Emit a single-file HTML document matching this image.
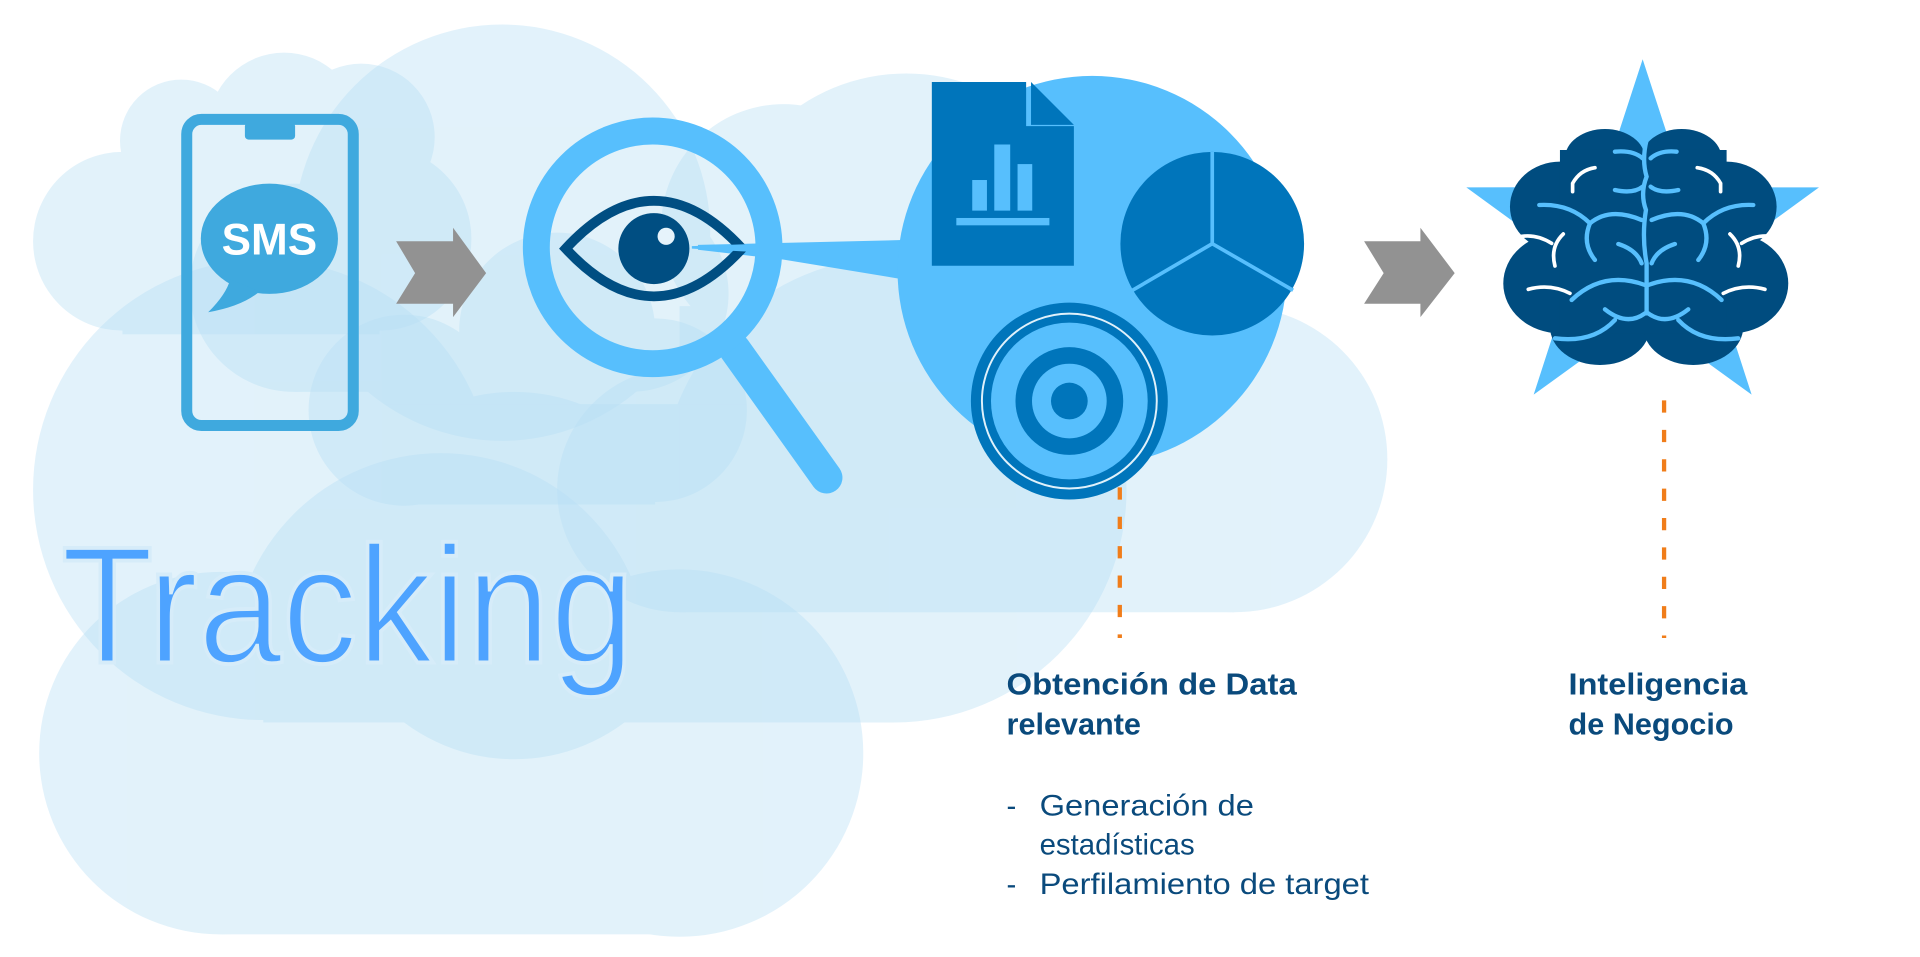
<!DOCTYPE html>
<html><head><meta charset="utf-8"><style>
html,body{margin:0;padding:0;background:#fff;}
svg{display:block;}
</style></head><body>
<svg width="1920" height="957" viewBox="0 0 1568 781.5" preserveAspectRatio="none" xmlns="http://www.w3.org/2000/svg">
<rect width="1568" height="781.5" fill="#fff"/>
<!-- clouds -->
<g fill="#b7dff5" opacity="0.4">
  <circle cx="180" cy="615" r="148"/><circle cx="555" cy="615" r="150"/><circle cx="360" cy="540" r="170"/>
  <rect x="180" y="500" width="375" height="263"/>
</g>
<g fill="#b7dff5" opacity="0.4">
  <circle cx="215" cy="400" r="188"/><circle cx="420" cy="470" r="150"/><circle cx="730" cy="400" r="190"/>
  <rect x="215" y="330" width="515" height="260"/>
</g>
<g fill="#b7dff5" opacity="0.4">
  <circle cx="740" cy="215" r="155"/><circle cx="1008" cy="375" r="125"/><circle cx="555" cy="400" r="100"/><circle cx="640" cy="185" r="100"/>
  <rect x="555" y="250" width="453" height="250"/>
</g>
<g fill="#b7dff5" opacity="0.4">
  <circle cx="100" cy="197" r="73"/><circle cx="148" cy="115" r="50"/><circle cx="232" cy="105" r="62"/><circle cx="295" cy="112" r="60"/><circle cx="310" cy="195" r="75"/>
  <rect x="100" y="140" width="210" height="133"/>
</g>
<g fill="#b7dff5" opacity="0.4">
  <circle cx="240" cy="235" r="85"/><circle cx="410" cy="190" r="170"/><circle cx="515" cy="240" r="80"/>
  <rect x="240" y="200" width="275" height="120"/>
</g>
<g fill="#b7dff5" opacity="0.4">
  <circle cx="330" cy="335" r="78"/><circle cx="535" cy="335" r="75"/><circle cx="455" cy="270" r="80"/>
  <rect x="330" y="280" width="205" height="132"/>
</g>

<!-- phone -->
<rect x="152.5" y="97.5" width="136" height="250" rx="12" fill="none" stroke="#3fa9de" stroke-width="9"/>
<rect x="200" y="100" width="41" height="14" rx="3" fill="#3fa9de"/>
<ellipse cx="220" cy="195" rx="56" ry="45" fill="#3fa9de"/>
<path d="M188 228 Q185 240 170 255 Q198 250 212 238 Z" fill="#3fa9de"/>
<text x="220" y="208" text-anchor="middle" font-family="Liberation Sans, sans-serif" font-weight="bold" font-size="36" fill="#fff">SMS</text>

<!-- arrows -->
<polygon points="323.5,197 370,197 370,186 397,223 370,259 370,248 323.5,248 339,223" fill="#929292"/>
<polygon points="1114,197 1160,197 1160,186 1188,223 1160,259 1160,248 1114,248 1130,223" fill="#929292"/>

<!-- beam -->
<polygon points="570,200 737,196 737,228 640,212 570,204" fill="#57bffd"/>
<!-- magnifier -->
<line x1="600" y1="285" x2="675" y2="390" stroke="#57bffd" stroke-width="26" stroke-linecap="round"/>
<circle cx="533" cy="202" r="95" fill="none" stroke="#57bffd" stroke-width="22"/>
<!-- eye -->
<path d="M462 203 Q534 125 606 203 Q534 281 462 203 Z" fill="none" stroke="#004e82" stroke-width="8"/>
<circle cx="534" cy="203" r="29" fill="#004e82"/>
<circle cx="544" cy="193" r="7" fill="#e6f3fb"/>
<polygon points="565,201 620,199 620,206 565,203" fill="#57bffd"/>

<!-- big circle -->
<circle cx="892" cy="221" r="159" fill="#57bffd"/>
<!-- document -->
<polygon points="761,67 838,67 838,103 877,103 877,217 761,217" fill="#0075bb"/>
<polygon points="842,67 877,102 842,102" fill="#0075bb"/>
<rect x="794" y="147" width="12" height="25" fill="#57bffd"/>
<rect x="812" y="118" width="13" height="54" fill="#57bffd"/>
<rect x="831" y="134" width="12" height="38" fill="#57bffd"/>
<rect x="781" y="178" width="76" height="6" fill="#57bffd"/>
<!-- pie -->
<circle cx="990" cy="199" r="75" fill="#0075bb"/>
<path d="M990 124 L990 199 L925 237 M990 199 L1056 237" stroke="#57bffd" stroke-width="3" fill="none"/>
<!-- target -->
<circle cx="873.3" cy="327.5" r="80.4" fill="#0075bb"/>
<circle cx="873.3" cy="327.5" r="71.4" fill="none" stroke="#dff1fb" stroke-width="1.6"/>
<circle cx="873.3" cy="327.5" r="64" fill="#57bffd"/>
<circle cx="873.3" cy="327.5" r="44" fill="#0075bb"/>
<circle cx="873.3" cy="327.5" r="30.5" fill="#57bffd"/>
<circle cx="873.3" cy="327.5" r="15" fill="#0075bb"/>

<!-- star -->
<polygon points="1341.5,48.4 1375.6,152.9 1485.5,153 1396.7,217.7 1430.5,322.3 1341.5,257.8 1252.5,322.3 1286.3,217.7 1197.5,153 1307.4,152.9" fill="#57bffd"/>
<!-- brain -->
<g transform="translate(1192.3,40.83) scale(0.2722)">
  <g fill="#004c7f">
    <ellipse cx="435" cy="325" rx="120" ry="88"/><ellipse cx="665" cy="325" rx="120" ry="88"/>
    <ellipse cx="300" cy="470" rx="150" ry="135"/><ellipse cx="800" cy="470" rx="150" ry="135"/>
    <ellipse cx="300" cy="700" rx="170" ry="150"/><ellipse cx="815" cy="700" rx="170" ry="150"/>
    <ellipse cx="420" cy="830" rx="150" ry="115"/><ellipse cx="700" cy="830" rx="150" ry="115"/>
    <rect x="300" y="300" width="500" height="550"/>
  </g>
  <g fill="none" stroke="#57bffd" stroke-width="13" stroke-linecap="round">
    <path d="M560 270 Q545 330 560 380 Q540 430 558 480 Q545 560 560 640 Q560 720 560 790"/>
    <path d="M465 305 Q520 300 548 325 M650 305 Q600 300 572 325"/>
    <path d="M465 420 Q520 432 548 410 M655 420 Q600 432 572 410"/>
    <path d="M238 465 Q330 460 390 520 Q365 580 405 630 M880 465 Q790 460 730 520 Q755 580 715 630"/>
    <path d="M390 520 Q450 470 545 510 M730 520 Q670 470 575 510"/>
    <path d="M475 582 Q530 600 545 640 M645 582 Q590 600 575 640"/>
    <path d="M335 750 Q430 660 555 705 M785 750 Q690 660 565 705"/>
    <path d="M435 778 Q500 830 555 790 M685 778 Q620 830 565 790"/>
    <path d="M285 865 Q400 880 465 810 M835 865 Q720 880 655 810"/>
  </g>
  <g fill="none" stroke="#ffffff" stroke-width="11" stroke-linecap="round">
    <path d="M405 353 Q360 360 338 400 L338 425 M712 353 Q760 360 782 400 L782 425"/>
    <path d="M205 718 Q270 700 330 730 M915 718 Q850 700 790 730"/>
    <path d="M310 552 Q270 590 285 648 M810 552 Q850 590 835 648"/>
    <path d="M160 565 Q220 545 275 580 M960 565 Q900 545 845 580"/>
  </g>
</g>

<!-- dashed connectors -->
<line x1="914.5" y1="398" x2="914.5" y2="521" stroke="#f07d1a" stroke-width="3.5" stroke-dasharray="10,14"/>
<line x1="1359" y1="327" x2="1359" y2="521" stroke="#f07d1a" stroke-width="3.5" stroke-dasharray="10,14"/>

<!-- text -->
<text x="50" y="541" font-family="Liberation Sans, sans-serif" font-size="136" fill="#4ea3ff" stroke="#d6ecf9" stroke-width="3.2" textLength="468" lengthAdjust="spacingAndGlyphs">Tracking</text>
<g font-family="Liberation Sans, sans-serif" fill="#0a4a7c">
  <text x="822" y="567" font-size="25" font-weight="bold" textLength="237" lengthAdjust="spacingAndGlyphs">Obtención de Data</text>
  <text x="822" y="600" font-size="25" font-weight="bold">relevante</text>
  <text x="822" y="666" font-size="24">-</text>
  <text x="849" y="666" font-size="24" textLength="175" lengthAdjust="spacingAndGlyphs">Generación de</text>
  <text x="849" y="698" font-size="24">estadísticas</text>
  <text x="822" y="730" font-size="24">-</text>
  <text x="849" y="730" font-size="24" textLength="269" lengthAdjust="spacingAndGlyphs">Perfilamiento de target</text>
  <text x="1281" y="567" font-size="25" font-weight="bold" textLength="146" lengthAdjust="spacingAndGlyphs">Inteligencia</text>
  <text x="1281" y="600" font-size="25" font-weight="bold">de Negocio</text>
</g>
</svg>
</body></html>
